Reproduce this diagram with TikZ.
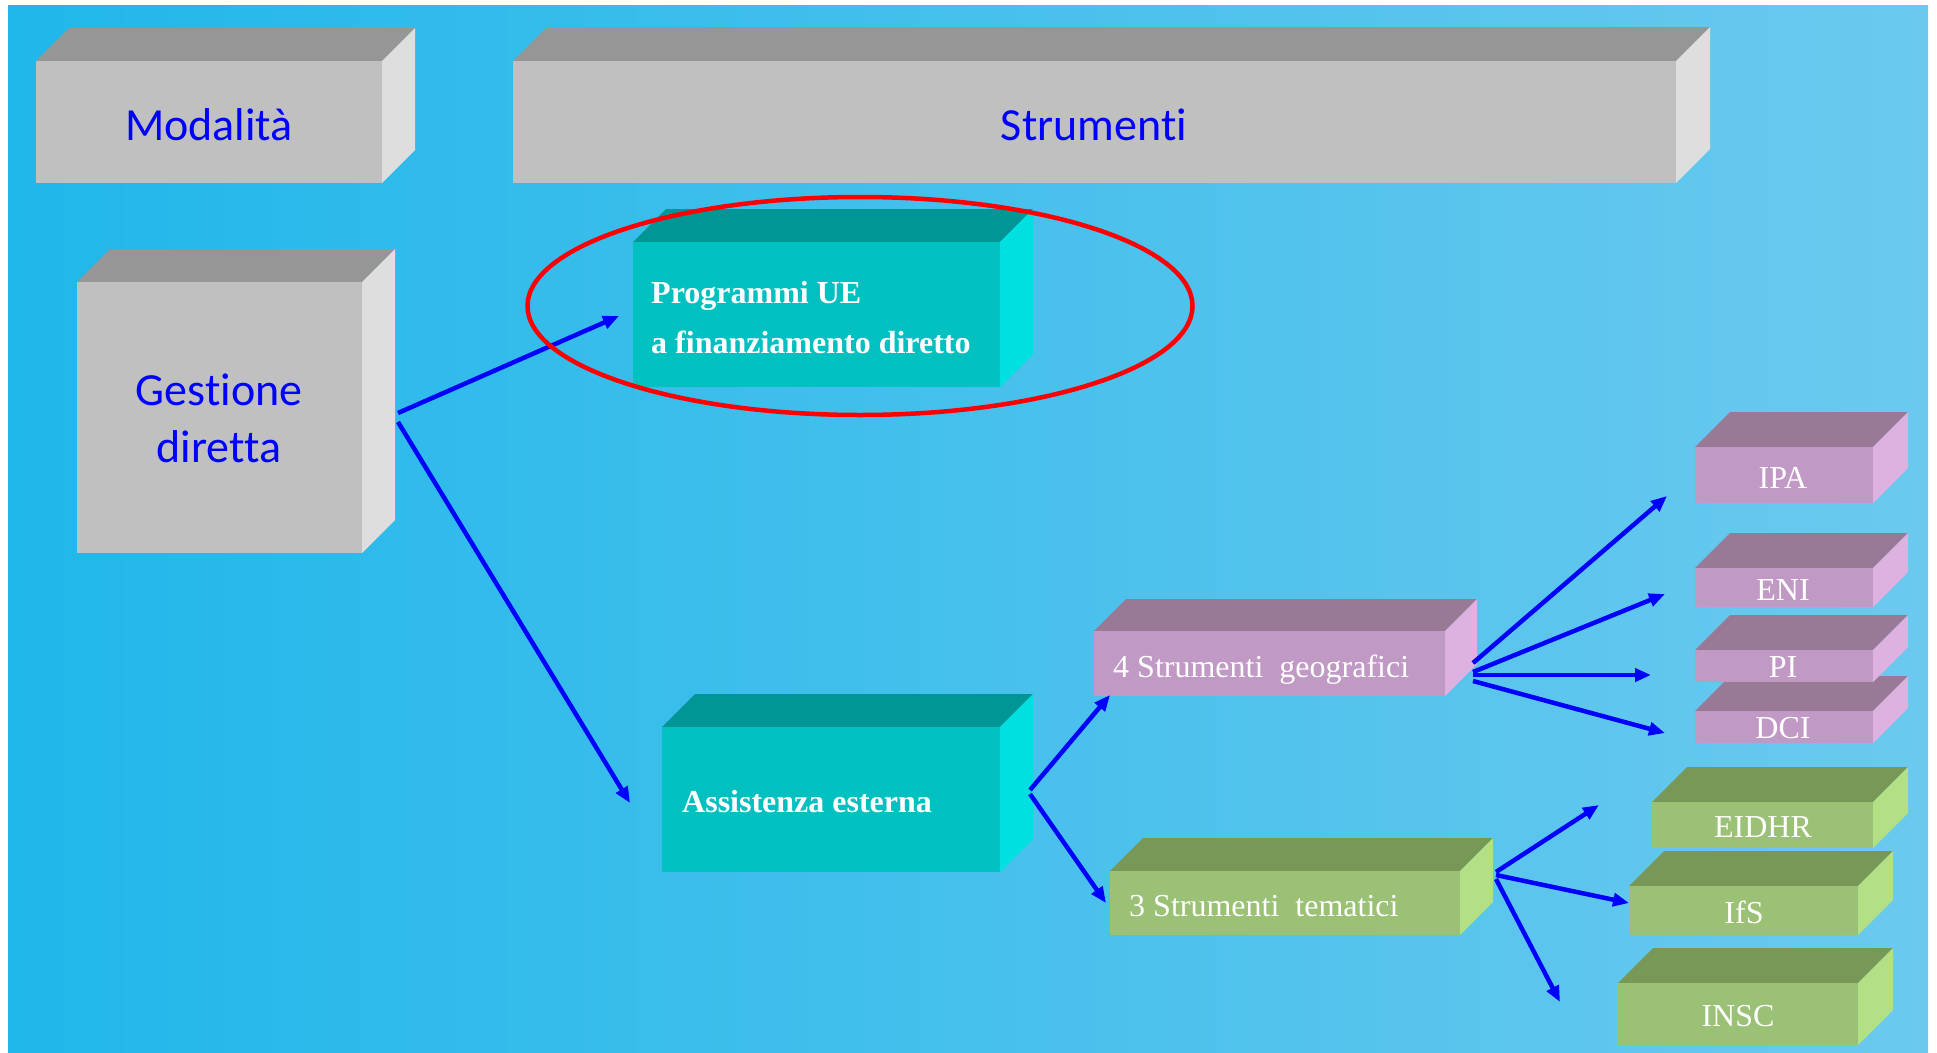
\documentclass[tikz,border=0pt]{standalone}
\usepackage{fontspec}
\setmainfont{Liberation Serif}
\newfontfamily\calib[Ligatures=NoCommon]{Carlito}
\usetikzlibrary{arrows.meta,shapes.geometric}
\definecolor{bgl}{HTML}{20B7EA}
\definecolor{bgr}{HTML}{6BC9EE}
\definecolor{greyfront}{HTML}{C0C0C0}
\definecolor{greytop}{HTML}{969696}
\definecolor{greyside}{HTML}{DEDEDE}
\definecolor{tealfront}{HTML}{00C0C0}
\definecolor{tealtop}{HTML}{009696}
\definecolor{tealside}{HTML}{00E0E0}
\definecolor{pinkfront}{HTML}{C09AC4}
\definecolor{pinktop}{HTML}{987A96}
\definecolor{pinkside}{HTML}{DEB2E0}
\definecolor{greenfront}{HTML}{9BC176}
\definecolor{greentop}{HTML}{789858}
\definecolor{greenside}{HTML}{B3E085}
\newcommand\drawcube[7]{%
  \fill[#2top] (#3,#4) -- ({#3+#7},{#4-#7}) -- ({#5+#7},{#4-#7}) -- (#5,#4) -- cycle;
  \fill[#2side] (#5,#4) -- ({#5+#7},{#4-#7}) -- ({#5+#7},{#6-#7}) -- (#5,#6) -- cycle;
  \node[fill=#2front, inner sep=0pt, outer sep=0pt, minimum width={(#5-#3)*1pt},
        minimum height={(#6-#4)*1pt}, anchor=north west] (#1) at (#3,#4) {};
}
\tikzset{
  gtxt/.style={font=\calib\fontsize{46}{57}\selectfont, text=blue, inner sep=0pt},
  wb/.style={font=\bfseries\fontsize{32}{50}\selectfont, text=white, inner sep=0pt, align=left},
  wr/.style={font=\fontsize{32}{38}\selectfont, text=white, inner sep=0pt},
  arr/.style={draw=blue, line width=4.5pt, -{Triangle[length=16pt,width=13pt]}},
}
\begin{document}
\begin{tikzpicture}[x=1pt,y=-1pt]
\useasboundingbox (0,0) rectangle (1937,1052);
\fill[white] (0,0) rectangle (1937,1052);
\shade[left color=bgl, right color=bgr] (8,5) rectangle (1928,1052);

% boxes
\drawcube{mod}{grey}{36}{61}{382}{183}{33}
\drawcube{strum}{grey}{513}{61}{1676}{183}{34}
\drawcube{gest}{grey}{77}{282}{362}{553}{33}
\drawcube{prog}{teal}{633}{242}{1000}{387}{33}
\drawcube{assist}{teal}{662}{727}{1000}{872}{33}
\drawcube{geo}{pink}{1094}{631}{1445}{696}{32}
\drawcube{tem}{green}{1110}{871}{1460}{935}{33}
\drawcube{ipa}{pink}{1695}{447}{1873}{503}{35}
\drawcube{eni}{pink}{1695}{568}{1873}{607}{35}
\drawcube{dci}{pink}{1695}{711}{1873}{743}{35}
\drawcube{pi}{pink}{1695}{650}{1873}{682}{35}
\drawcube{eidhr}{green}{1652}{802}{1873}{848}{35}
\drawcube{ifs}{green}{1629}{886}{1858}{935}{35}
\drawcube{insc}{green}{1618}{983}{1858}{1045}{35}

% texts
\node[gtxt, anchor=base] (modtxt) at (209,140) {Modalità};
\node[gtxt, anchor=base] (strumtxt) at (1094,140) {Strumenti};
\node[gtxt, anchor=base, align=center] (gesttxt) at (219,462) {Gestione\\diretta};
\node[wb, anchor=base west] (progtxt) at (651,353) {Programmi UE\\a finanziamento diretto};
\node[wb, anchor=base west] (assisttxt) at (682,812) {Assistenza esterna};
\node[wr, anchor=base west] (geotxt) at (1113,677) {4 Strumenti\ \ geografici};
\node[wr, anchor=base west] (temtxt) at (1129,916) {3 Strumenti\ \ tematici};
\node[wr, anchor=base] (ipatxt) at (1783,488) {IPA};
\node[wr, anchor=base] (enitxt) at (1783,600) {ENI};
\node[wr, anchor=base] (pitxt) at (1783,677) {PI};
\node[wr, anchor=base] (dcitxt) at (1783,738) {DCI};
\node[wr, anchor=base] (eidhrtxt) at (1763,837) {EIDHR};
\node[wr, anchor=base] (ifstxt) at (1744,923) {IfS};
\node[wr, anchor=base] (insctxt) at (1738,1026) {INSC};

% connector ends
\coordinate (gest-a) at (398,413);
\coordinate (gest-b) at (398,422);
\coordinate (prog-in) at (619,316);
\coordinate (assist-in) at (630,803);
\coordinate (assist-a) at (1030,790);
\coordinate (assist-b) at (1030,794);
\coordinate (geo-in) at (1110,695);
\coordinate (tem-in) at (1106,903);
\coordinate (geo-o1) at (1473,663);
\coordinate (geo-o2) at (1473,672);
\coordinate (geo-o3) at (1473,675);
\coordinate (geo-o4) at (1473,681);
\coordinate (ipa-in) at (1667,496);
\coordinate (eni-in) at (1665,594);
\coordinate (pi-in) at (1651,675);
\coordinate (dci-in) at (1665,733);
\coordinate (tem-o1) at (1496,872);
\coordinate (tem-o2) at (1496,875);
\coordinate (tem-o3) at (1496,879);
\coordinate (eidhr-in) at (1599,805);
\coordinate (ifs-in) at (1629,903);
\coordinate (insc-in) at (1560,1002);

% connectors
\draw[arr] (gest-a) -- (prog-in);
\draw[arr] (gest-b) -- (assist-in);
\draw[arr] (assist-a) -- (geo-in);
\draw[arr] (assist-b) -- (tem-in);
\draw[arr] (geo-o1) -- (ipa-in);
\draw[arr] (geo-o2) -- (eni-in);
\draw[arr] (geo-o3) -- (pi-in);
\draw[arr] (geo-o4) -- (dci-in);
\draw[arr] (tem-o1) -- (eidhr-in);
\draw[arr] (tem-o2) -- (ifs-in);
\draw[arr] (tem-o3) -- (insc-in);

% highlight
\node[draw=red, line width=4.5pt, ellipse, inner sep=0pt, minimum width=665pt, minimum height=218pt] (hl) at (860,306) {};
\end{tikzpicture}
\end{document}
